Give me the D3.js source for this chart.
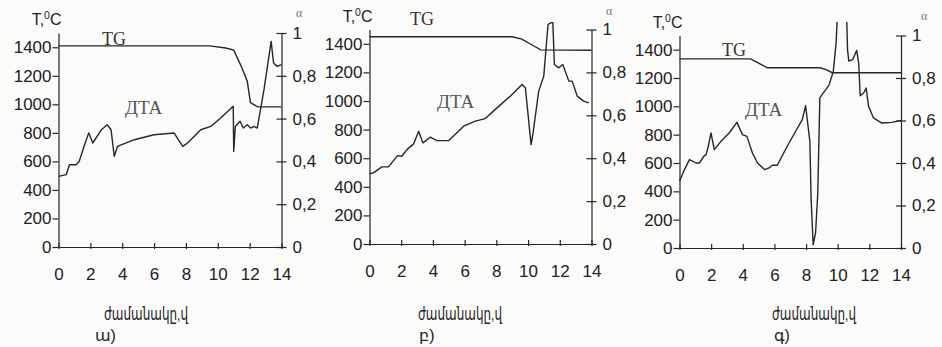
<!DOCTYPE html>
<html>
<head>
<meta charset="utf-8">
<script src="https://cdn.jsdelivr.net/npm/d3@7"></script>
<style>
  body { margin: 0; background: #fbfbfa; }
  svg { display: block; }
  .tick text { font-family: "Liberation Sans", Arial, "DejaVu Sans", sans-serif; font-size: 17px; fill: #222; }
</style>
</head>
<body>
<svg id="chart" width="942" height="347"></svg>
<script>
// tick values shared by all three panels
const timeTicks = [0, 2, 4, 6, 8, 10, 12, 14];
const tempTicks = [0, 200, 400, 600, 800, 1000, 1200, 1400];
const alphaTicks = [0, 0.2, 0.4, 0.6, 0.8, 1];

// panel ա) : [time h, T °C] for DTA, [time h, α] for TG
const dtaA = [[0,495],[0.48,507],[0.69,577],[1.1,577],[1.3,600],[1.6,705],[1.9,800],[2.15,729],[2.7,822],
  [3.05,857],[3.3,822],[3.5,635],[3.7,705],[4.76,752],[6.0,787],[7.26,799],[7.8,705],[8.1,729],[8.93,822],
  [9.56,845],[10.18,904],[10.97,986],[11.0,670],[11.1,845],[11.4,881],[11.6,834],[11.85,857],[12.06,834],
  [12.27,845],[12.48,834],[12.9,1103],[13.35,1441],[13.5,1290],[13.73,1266],[14,1278]];
const tgA = [[0,0.94],[9.5,0.94],[10.5,0.93],[11.0,0.92],[11.5,0.84],[11.85,0.775],[12.05,0.675],[12.5,0.655],[14,0.655]];

// panel բ)
const dtaB = [[0,490],[0.25,497],[0.78,539],[1.2,539],[1.4,567],[1.77,618],[2.04,614],[2.36,660],[2.78,700],
  [3.1,789],[3.37,707],[3.83,747],[4.25,723],[5.0,723],[5.94,824],[6.67,859],[7.3,877],[8.04,952],[8.88,1034],
  [9.62,1115],[9.83,1092],[10.19,695],[10.3,765],[10.67,1069],[10.99,1174],[11.26,1535],[11.56,1554],
  [11.66,1255],[11.94,1232],[12.19,1255],[12.57,1139],[12.78,1139],[13.1,1034],[13.5,999],[13.83,987]];
const tgB = [[0,0.966],[9.0,0.966],[9.6,0.955],[10.2,0.93],[10.8,0.905],[14,0.903]];

// panel գ)
const dtaC = [[0,471],[0.31,553],[0.63,624],[1.05,600],[1.26,600],[1.53,647],[1.68,659],[1.82,718],[1.99,812],
  [2.2,694],[2.62,753],[3.14,812],[3.63,887],[3.98,800],[4.26,788],[4.61,671],[4.93,600],[5.39,553],[5.66,565],
  [5.87,584],[6.18,584],[6.81,718],[7.34,824],[7.76,906],[7.97,1005],[8.24,753],[8.32,341],[8.45,24],[8.6,106],
  [8.74,388],[8.87,1059],[9.16,1106],[9.45,1150],[9.72,1245],[9.9,1450],[10.0,1700],[10.25,1950],[10.55,1700],
  [10.62,1400],[10.7,1320],[10.95,1330],[11.2,1395],[11.33,1300],[11.42,1075],[11.64,1094],[11.8,1129],
  [11.95,1000],[12.26,918],[12.79,882],[13.42,887],[14,901]];
const tgC = [[0,0.89],[4.5,0.89],[5.0,0.87],[5.55,0.848],[8.9,0.848],[9.3,0.838],[9.65,0.825],[14,0.825]];

const panels = [
  { dta: dtaA, tg: tgA, left: 58.5, right: 281.5, top: 33, bottom: 247, caption: "ա)",
    capX: 95, titleX: 146, tgLab: [102, 45], dtaLab: [125, 114], alphaX: 296, alphaY: 17 },
  { dta: dtaB, tg: tgB, left: 369.5, right: 591.5, top: 29.5, bottom: 244, caption: "բ)",
    capX: 419, titleX: 460, tgLab: [410, 25], dtaLab: [437, 108], alphaX: 606, alphaY: 15 },
  { dta: dtaC, tg: tgC, left: 679.5, right: 901, top: 35.5, bottom: 248, caption: "գ)",
    capX: 774, titleX: 814, tgLab: [722, 56], dtaLab: [745, 116], alphaX: 921, alphaY: 20 }
];

const svg = d3.select("#chart");
const ink = "#262626";
const sans = "'Liberation Sans', Arial, 'DejaVu Sans', sans-serif";
const serif = "'Liberation Serif', 'Times New Roman', 'DejaVu Serif', serif";
const commaFmt = d => (d === 0 || d === 1) ? String(d) : d.toFixed(1).replace(".", ",");

panels.forEach((p, i) => {
  const x = d3.scaleLinear().domain([0, 14]).range([p.left, p.right]);
  const yT = d3.scaleLinear().domain([0, 1500]).range([p.bottom, p.top]);
  const yA = d3.scaleLinear().domain([0, 1]).range([p.bottom, p.top]);

  const g = svg.append("g").attr("class", "panel-" + i);

  // clip so the runaway DTA peak stops at the page top like the scan
  g.append("clipPath").attr("id", "clip" + i)
    .append("rect").attr("x", p.left - 2).attr("y", 22).attr("width", p.right - p.left + 4).attr("height", p.bottom - 20);

  // left axis, T
  const axL = g.append("g").attr("transform", `translate(${p.left},0)`)
    .call(d3.axisLeft(yT).tickValues(tempTicks).tickFormat(d3.format("d")).tickSize(6).tickSizeOuter(0).tickPadding(1));
  axL.select(".domain").attr("stroke", ink).attr("stroke-width", 1.2);
  axL.selectAll(".tick line").attr("stroke", ink).attr("stroke-width", 1.2);

  // right axis, α: ticks cross the line
  const axR = g.append("g").attr("transform", `translate(${p.right},0)`)
    .call(d3.axisRight(yA).tickValues(alphaTicks).tickSize(5).tickSizeOuter(0).tickPadding(6).tickFormat(commaFmt));
  axR.select(".domain").attr("stroke", ink).attr("stroke-width", 1.2);
  axR.selectAll(".tick line").attr("x1", -5).attr("stroke", ink).attr("stroke-width", 1.2);

  // bottom axis, time
  const axB = g.append("g").attr("transform", `translate(0,${p.bottom})`)
    .call(d3.axisBottom(x).tickValues(timeTicks).tickSize(2).tickSizeOuter(0).tickPadding(19));
  axB.select(".domain").attr("stroke", ink).attr("stroke-width", 1.2);
  axB.selectAll(".tick line").attr("y1", -4).attr("stroke", ink).attr("stroke-width", 1.2);

  // curves
  const lineT = d3.line().x(d => x(d[0])).y(d => yT(d[1]));
  const lineA = d3.line().x(d => x(d[0])).y(d => yA(d[1]));

  g.append("path").datum(p.tg).attr("d", lineA)
    .attr("fill", "none").attr("stroke", ink).attr("stroke-width", 1.4);
  g.append("path").datum(p.dta).attr("d", lineT).attr("clip-path", `url(#clip${i})`)
    .attr("fill", "none").attr("stroke", ink).attr("stroke-width", 1.4).attr("stroke-linejoin", "round");

  // axis titles
  const tl = g.append("text").attr("x", p.left + 3).attr("y", p.top - 8).attr("text-anchor", "end")
    .attr("font-family", sans).attr("font-size", 16).attr("fill", "#222");
  tl.append("tspan").text("T,");
  tl.append("tspan").attr("font-size", 10.5).attr("dy", -6).text("0");
  tl.append("tspan").attr("dy", 6).text("C");

  g.append("text").attr("x", p.alphaX).attr("y", p.alphaY)
    .attr("font-family", serif).attr("font-size", 12).attr("fill", "#777").text("α");

  g.append("text").attr("x", p.tgLab[0]).attr("y", p.tgLab[1])
    .attr("font-family", serif).attr("font-size", 18).attr("fill", "#333").text("TG");
  g.append("text").attr("x", p.dtaLab[0]).attr("y", p.dtaLab[1])
    .attr("font-family", serif).attr("font-size", 19).attr("fill", "#555").text("ДТА");

  g.append("text").attr("x", p.titleX).attr("y", 320).attr("text-anchor", "middle")
    .attr("font-family", sans).attr("font-size", 17).attr("fill", "#222")
    .attr("textLength", 84).attr("lengthAdjust", "spacingAndGlyphs").text("ժամանակը,վ");
  g.append("text").attr("x", p.capX).attr("y", 341)
    .attr("font-family", sans).attr("font-size", 16).attr("fill", "#222").text(p.caption);
});
</script>
</body>
</html>
